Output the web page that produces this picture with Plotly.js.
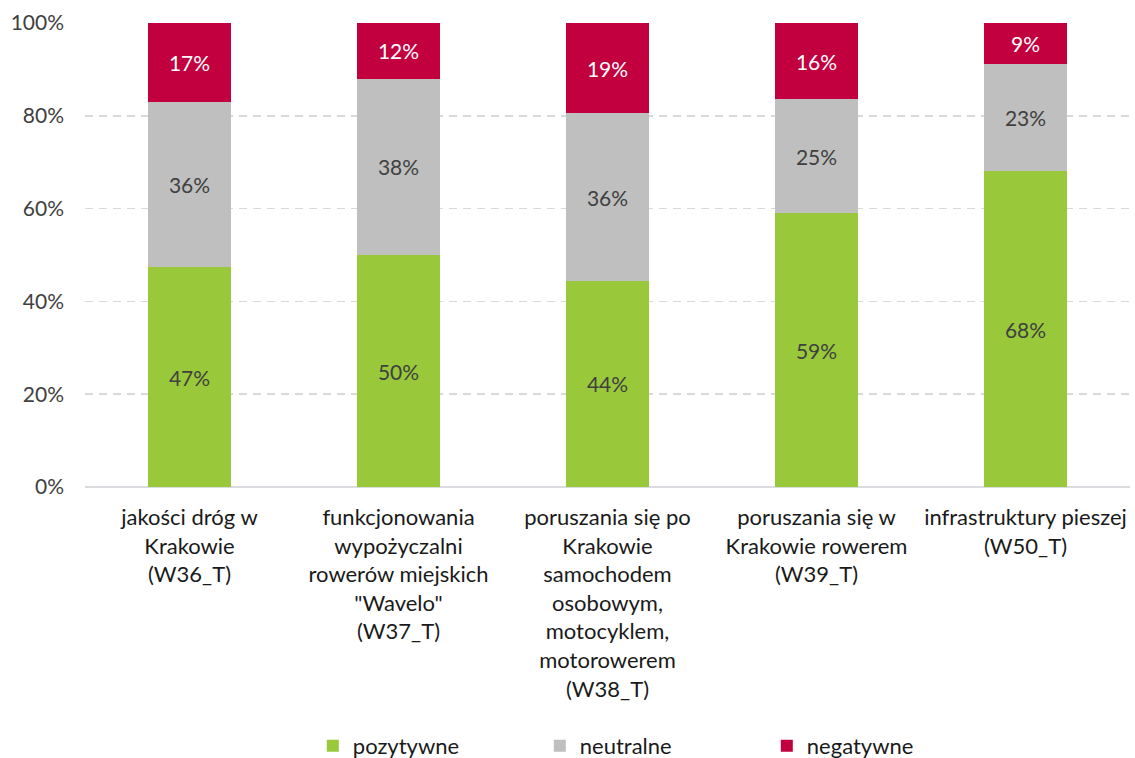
<!DOCTYPE html>
<html>
<head>
<meta charset="utf-8">
<script src="https://cdn.plot.ly/plotly-3.0.1.min.js"></script>
<style>html,body{margin:0;padding:0;background:#fff;}#chart{width:1135px;height:758px;}</style>
</head>
<body>
<div id="chart"></div>
<script>
const categories = [
  "jakości dróg w<br>Krakowie<br>(W36_T)",
  "funkcjonowania<br>wypożyczalni<br>rowerów miejskich<br>\"Wavelo\"<br>(W37_T)",
  "poruszania się po<br>Krakowie<br>samochodem<br>osobowym,<br>motocyklem,<br>motorowerem<br>(W38_T)",
  "poruszania się w<br>Krakowie rowerem<br>(W39_T)",
  "infrastruktury pieszej<br>(W50_T)"
];
const pozytywne = [47.4, 50.0, 44.4, 59.0, 68.1];
const neutralne = [35.6, 38.0, 36.2, 24.6, 23.1];
const negatywne = [17.0, 12.0, 19.4, 16.4, 8.8];
const seriesNames = ["pozytywne", "neutralne", "negatywne"];
const yTicks = [0, 20, 40, 60, 80, 100];
const yTickLabels = ["0%", "20%", "40%", "60%", "80%", "100%"];

const FONT = "Lato, 'Open Sans', sans-serif";
const colors = ["#99C93A", "#BFBFBF", "#C3003F"];
const textColors = ["#404040", "#404040", "#FFFFFF"];
const data = [pozytywne, neutralne, negatywne].map((vals, i) => ({
  type: "bar",
  name: seriesNames[i],
  x: categories,
  y: vals,
  marker: {color: colors[i]},
  width: 0.4,
  text: vals.map(v => Math.round(v) + "%"),
  textposition: "inside",
  insidetextanchor: "middle",
  constraintext: "none",
  textfont: {family: FONT, size: 21, color: textColors[i]},
  hoverinfo: "skip"
}));

const layout = {
  barmode: "stack",
  width: 1135,
  height: 758,
  margin: {l: 85, r: 5, t: 23, b: 271, autoexpand: false},
  paper_bgcolor: "#fff",
  plot_bgcolor: "#fff",
  font: {family: FONT, size: 21, color: "#404040"},
  xaxis: {
    showgrid: false,
    tickfont: {family: FONT, size: 22, color: "#1a1a1a"},
    ticks: "",
    ticklabelstandoff: 15,
    showline: false,
    zeroline: false
  },
  yaxis: {
    range: [0, 100],
    tickmode: "array",
    tickvals: yTicks,
    ticktext: yTickLabels,
    showgrid: true,
    gridcolor: "#D9D9D9",
    griddash: "8px,6px",
    gridwidth: 1.5,
    zeroline: true,
    zerolinecolor: "#D9DBDE",
    zerolinewidth: 2,
    showline: false,
    ticks: "",
    ticklabelstandoff: 20,
    tickfont: {family: FONT, size: 21, color: "#404040"}
  },
  showlegend: true,
  legend: {
    orientation: "h",
    x: 0.218,
    xanchor: "left",
    y: -0.558,
    yanchor: "middle",
    entrywidth: 182,
    entrywidthmode: "pixels",
    font: {family: FONT, size: 22, color: "#1a1a1a"},
    itemclick: false,
    traceorder: "normal"
  }
};

Plotly.newPlot("chart", data, layout, {displayModeBar: false, staticPlot: true});
</script>
</body>
</html>
